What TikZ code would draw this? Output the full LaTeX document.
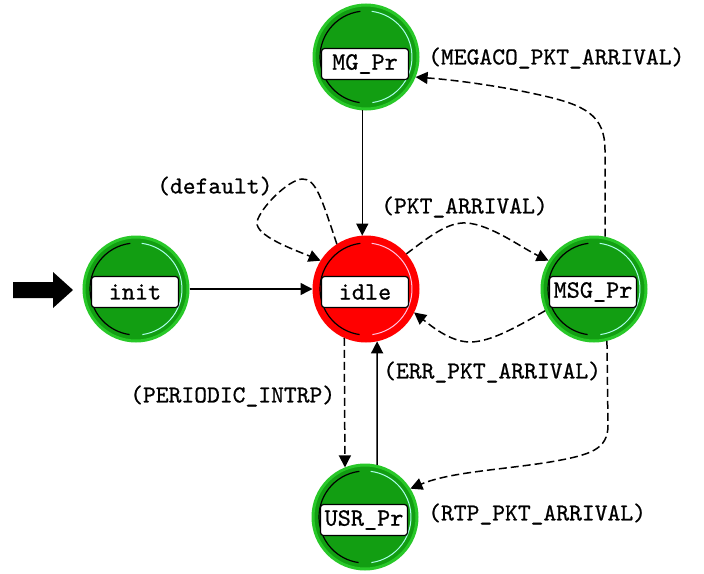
\documentclass[tikz,border=0pt]{standalone}
\usepackage{fontspec}
\usetikzlibrary{arrows.meta}
\newfontfamily\lblfont{lmmono10-regular}[Extension=.otf, FakeBold=0.7]

\definecolor{stgreen}{RGB}{18,158,18}
\definecolor{stgreenedge}{RGB}{40,200,40}
\definecolor{stred}{RGB}{255,0,0}
\definecolor{greenhi}{RGB}{170,255,235}
\definecolor{redhi}{RGB}{255,195,225}

\tikzset{
  state/.style={circle, minimum size=104pt, inner sep=0pt, line width=3pt},
  greenstate/.style={state, fill=stgreen, draw=stgreenedge},
  redstate/.style={state, fill=stred, draw=stred},
  namebox/.style={draw, fill=white, rounded corners=3pt, line width=1.2pt,
    minimum width=87pt, minimum height=31pt, inner sep=0pt,
    font=\fontsize{25}{25}\lblfont},
  cond/.style={anchor=west, inner sep=0pt, font=\fontsize{24.4}{24.4}\lblfont},
  trans/.style={line width=1.5pt, -{Triangle[length=12pt,width=12pt]}},
  dashtrans/.style={trans, dash pattern=on 8pt off 4pt},
}

\begin{document}
\begin{tikzpicture}[x=1pt, y=-1pt]
\useasboundingbox (0,0) rectangle (704,573);

% states
\node[greenstate] (init) at (136,289) {};
\node[redstate]   (idle) at (366,289) {};
\node[greenstate] (mg)   at (366,57)  {};
\node[greenstate] (msg)  at (594,289) {};
\node[greenstate] (usr)  at (365,517) {};

% shading arcs inside each state
\foreach \s/\hi in {init/greenhi, idle/redhi, mg/greenhi, msg/greenhi, usr/greenhi}{
  \begin{scope}[shift={(\s.center)}, y=1pt]
    \draw[black, line width=1.2pt] (97:46) arc[start angle=97, end angle=262, radius=46];
    \draw[\hi, line width=1pt] (-82:46) arc[start angle=-82, end angle=83, radius=46];
  \end{scope}
}

% name boxes
\node[namebox] (initbox) at (135,292) {init};
\node[namebox] (idlebox) at (365,292) {idle};
\node[namebox] (mgbox)   at (365,64)  {MG\_Pr};
\node[namebox] (msgbox)  at (593,292) {MSG\_Pr};
\node[namebox] (usrbox)  at (364,520) {USR\_Pr};

% initial-state pointer
\coordinate (entry) at (13,290);
\fill (entry) ++(0,-8) -- ++(40,0) -- ++(0,-10) -- (73,290) -- (53,308) -- (53,298) -- (13,298) -- cycle;

% transitions
\draw[trans] (init) -- (idle);
\draw[trans] (mg.266) -- (idle.94);
\draw[dashtrans] (idle.123) .. controls (322,200) and (316,178) .. (302,179)
  .. controls (288,180) and (260,208) .. (257,222)
  .. controls (255,236) and (295,250) .. (idle.148);
\draw[dashtrans] (idle.41) .. controls (430,236) and (448,222) .. (466,223)
  .. controls (490,224) and (522,248) .. (msg.148);
\draw[dashtrans] (msg.204) .. controls (515,328) and (490,342) .. (470,342)
  .. controls (450,342) and (430,325) .. (idle.334);
\draw[dashtrans] (msg.78) -- (605,150) .. controls (605,115) and (585,105) .. (540,95)
  .. controls (500,86) and (455,80) .. (mg.338);
\draw[dashtrans] (msg.284) -- (608,425) .. controls (608,450) and (590,455) .. (550,462)
  .. controls (500,470) and (450,472) .. (usr.32);
\draw[dashtrans] (idle.246) -- (usr.112);
\draw[trans] (usr.77) -- (idle.282);

% conditions
\node[cond] (cmegaco) at (428,58)  {(MEGACO\_PKT\_ARRIVAL)};
\node[cond] (cdef)    at (157,186) {(default)};
\node[cond] (cpkt)    at (381,207) {(PKT\_ARRIVAL)};
\node[cond] (cerr)    at (383,372) {(ERR\_PKT\_ARRIVAL)};
\node[cond] (cper)    at (130,396) {(PERIODIC\_INTRP)};
\node[cond] (crtp)    at (428,514) {(RTP\_PKT\_ARRIVAL)};
\end{tikzpicture}
\end{document}
